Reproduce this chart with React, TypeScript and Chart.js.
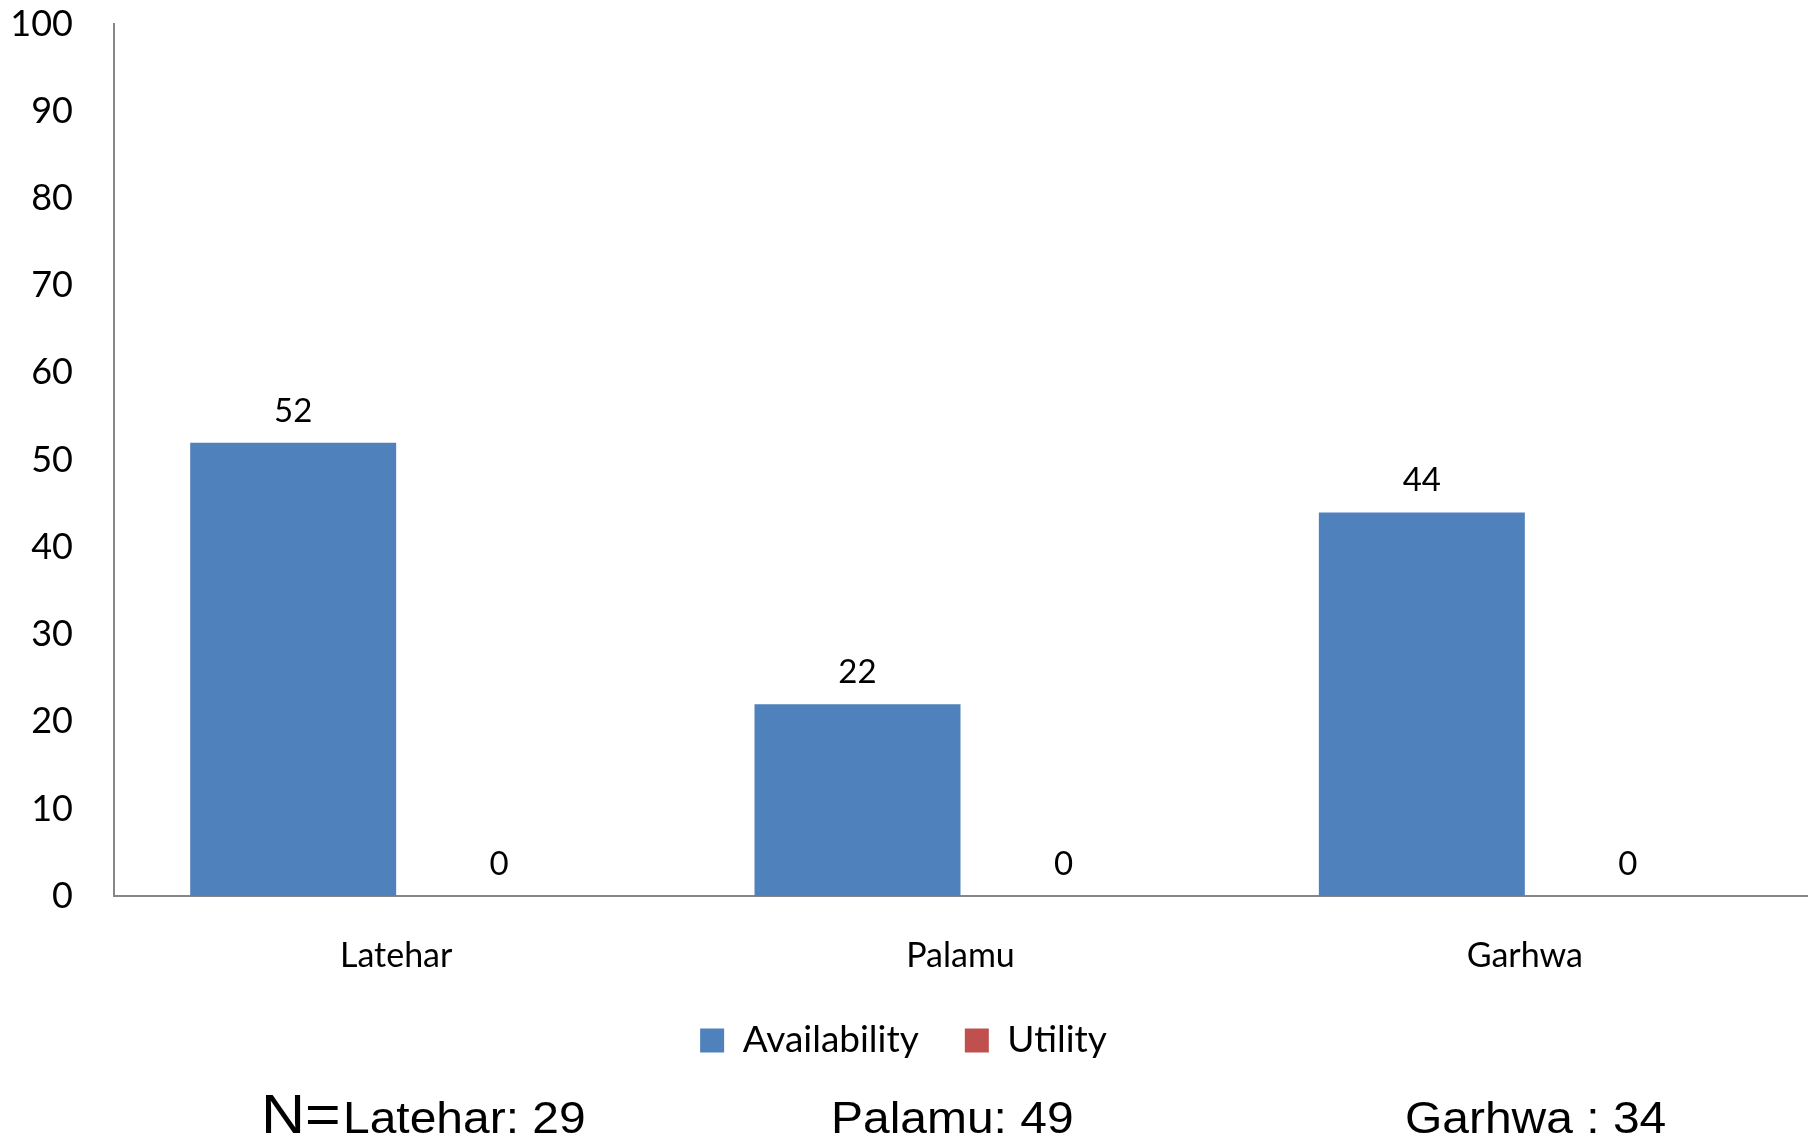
import React, { useEffect, useRef } from "react";
import { Chart, registerables } from "chart.js";

Chart.register(...registerables);

const categories = ["Latehar", "Palamu", "Garhwa"];
const availability = [52, 22, 44];
const utility = [0, 0, 0];
const yTicks = { min: 0, max: 100, step: 10 };
const sampleLabels = ["Latehar: 29", "Palamu: 49", "Garhwa : 34"];

const FONT = "Lato, 'Open Sans', sans-serif";
const ARIAL = "'Liberation Sans', Arial, sans-serif";

const dataLabelPlugin = {
  id: "dataLabels",
  afterDatasetsDraw(chart: any) {
    const ctx = chart.ctx;
    ctx.save();
    ctx.font = `33px ${FONT}`;
    ctx.fillStyle = "#000";
    ctx.textAlign = "center";
    ctx.textBaseline = "alphabetic";
    chart.data.datasets.forEach((ds: any, i: number) => {
      const meta = chart.getDatasetMeta(i);
      meta.data.forEach((el: any, j: number) => {
        ctx.fillText(String(ds.data[j]), el.x, el.y - 21);
      });
    });
    ctx.restore();
  },
};

function stretchedText(ctx: any, text: string, x: number, y: number, font: string, sx: number) {
  ctx.save();
  ctx.font = font;
  ctx.translate(x, y);
  ctx.scale(sx, 1);
  ctx.fillText(text, 0, 0);
  ctx.restore();
}

const sampleTextPlugin = {
  id: "sampleText",
  afterDraw(chart: any) {
    const ctx = chart.ctx;
    const baseY = chart.height - 13;
    ctx.save();
    ctx.fillStyle = "#000";
    ctx.textAlign = "left";
    ctx.textBaseline = "alphabetic";
    stretchedText(ctx, "N=", 261, baseY, `56px ${ARIAL}`, 1.09);
    stretchedText(ctx, sampleLabels[0], 343, baseY, `44px ${ARIAL}`, 1.09);
    stretchedText(ctx, sampleLabels[1], 831, baseY, `44px ${ARIAL}`, 1.09);
    stretchedText(ctx, sampleLabels[2], 1405, baseY, `44px ${ARIAL}`, 1.09);
    ctx.restore();
  },
};

export default function App() {
  const canvasRef = useRef<HTMLCanvasElement | null>(null);

  useEffect(() => {
    document.body.style.margin = "0";
    document.body.style.overflow = "hidden";
    const canvas = canvasRef.current;
    if (!canvas) return;
    const chart = new Chart(canvas, {
      type: "bar",
      data: {
        labels: categories,
        datasets: [
          {
            label: "Availability",
            data: availability,
            backgroundColor: "#4F81BD",
            borderWidth: 0,
          },
          {
            label: "Utility",
            data: utility,
            backgroundColor: "#C0504D",
            borderWidth: 0,
          },
        ],
      },
      options: {
        animation: false,
        responsive: false,
        maintainAspectRatio: false,
        datasets: {
          bar: { barPercentage: 1, categoryPercentage: 0.73 },
        },
        layout: { padding: { left: 0, right: 8, top: 24, bottom: 77 } },
        plugins: {
          tooltip: { enabled: false },
          legend: {
            position: "bottom",
            labels: {
              boxWidth: 24,
              boxHeight: 24,
              padding: 46,
              color: "#000",
              font: { family: FONT, size: 37 },
            },
          },
        },
        scales: {
          x: {
            grid: { display: false, drawTicks: true, tickLength: 39 },
            border: { display: true, color: "#868686", width: 2 },
            ticks: {
              color: "#000",
              padding: 0,
              font: { family: FONT, size: 34 },
            },
          },
          y: {
            min: yTicks.min,
            max: yTicks.max,
            grid: { display: false, drawTicks: true, tickLength: 41 },
            border: { display: true, color: "#868686", width: 2 },
            ticks: {
              stepSize: yTicks.step,
              color: "#000",
              padding: 0,
              font: { family: FONT, size: 36 },
            },
            afterFit(scale: any) {
              scale.width = 114;
            },
          },
        },
      },
      plugins: [dataLabelPlugin, sampleTextPlugin],
    });
    return () => chart.destroy();
  }, []);

  return (
    <div style={{ position: "absolute", left: 0, top: 0, width: 1815, height: 1146, background: "#fff" }}>
      <canvas ref={canvasRef} width={1815} height={1146} style={{ width: 1815, height: 1146 }} />
    </div>
  );
}
